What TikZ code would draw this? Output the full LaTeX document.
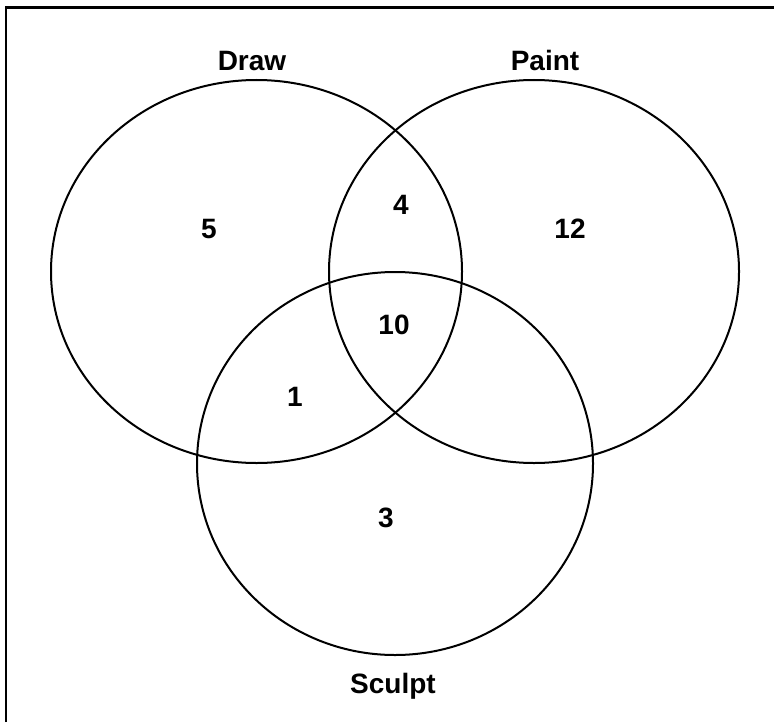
\documentclass[tikz,border=0pt]{standalone}
\usepackage{fontspec}
\setmainfont{Liberation Sans}
\usetikzlibrary{shapes.geometric}
\begin{document}
\begin{tikzpicture}[x=0.5pt,y=-0.5pt,
  setshape/.style={ellipse, draw, line width=1pt, inner sep=0pt, minimum height=191.5pt},
  lbl/.style={font=\fontsize{14}{16}\selectfont\bfseries, anchor=base, inner sep=0pt},
  frameline/.style={line width=1.3pt}]
\useasboundingbox (0,0) rectangle (774,722);
\fill[white] (0,0) rectangle (774,722);
\coordinate (fbl) at (6,722);
\coordinate (ftl) at (6,7.3);
\coordinate (ftr) at (774,7.3);
\draw[frameline] (fbl) -- (ftl) -- (ftr);
\node[setshape, minimum width=205.5pt] (drawset) at (256.5,271.5) {};
\node[setshape, minimum width=205pt] (paintset) at (534,271.5) {};
\node[setshape, minimum width=198pt] (sculptset) at (395,463.5) {};
\node[lbl] (drawlbl) at (252,70) {Draw};
\node[lbl] (paintlbl) at (545,70) {Paint};
\node[lbl] (sculptlbl) at (393,693) {Sculpt};
\node[lbl] (n5) at (209,238) {5};
\node[lbl] (n4) at (401,214) {4};
\node[lbl] (n12) at (570,238) {12};
\node[lbl] (n10) at (394,334) {10};
\node[lbl] (n1) at (295,406) {1};
\node[lbl] (n3) at (386,527) {3};
\end{tikzpicture}
\end{document}
